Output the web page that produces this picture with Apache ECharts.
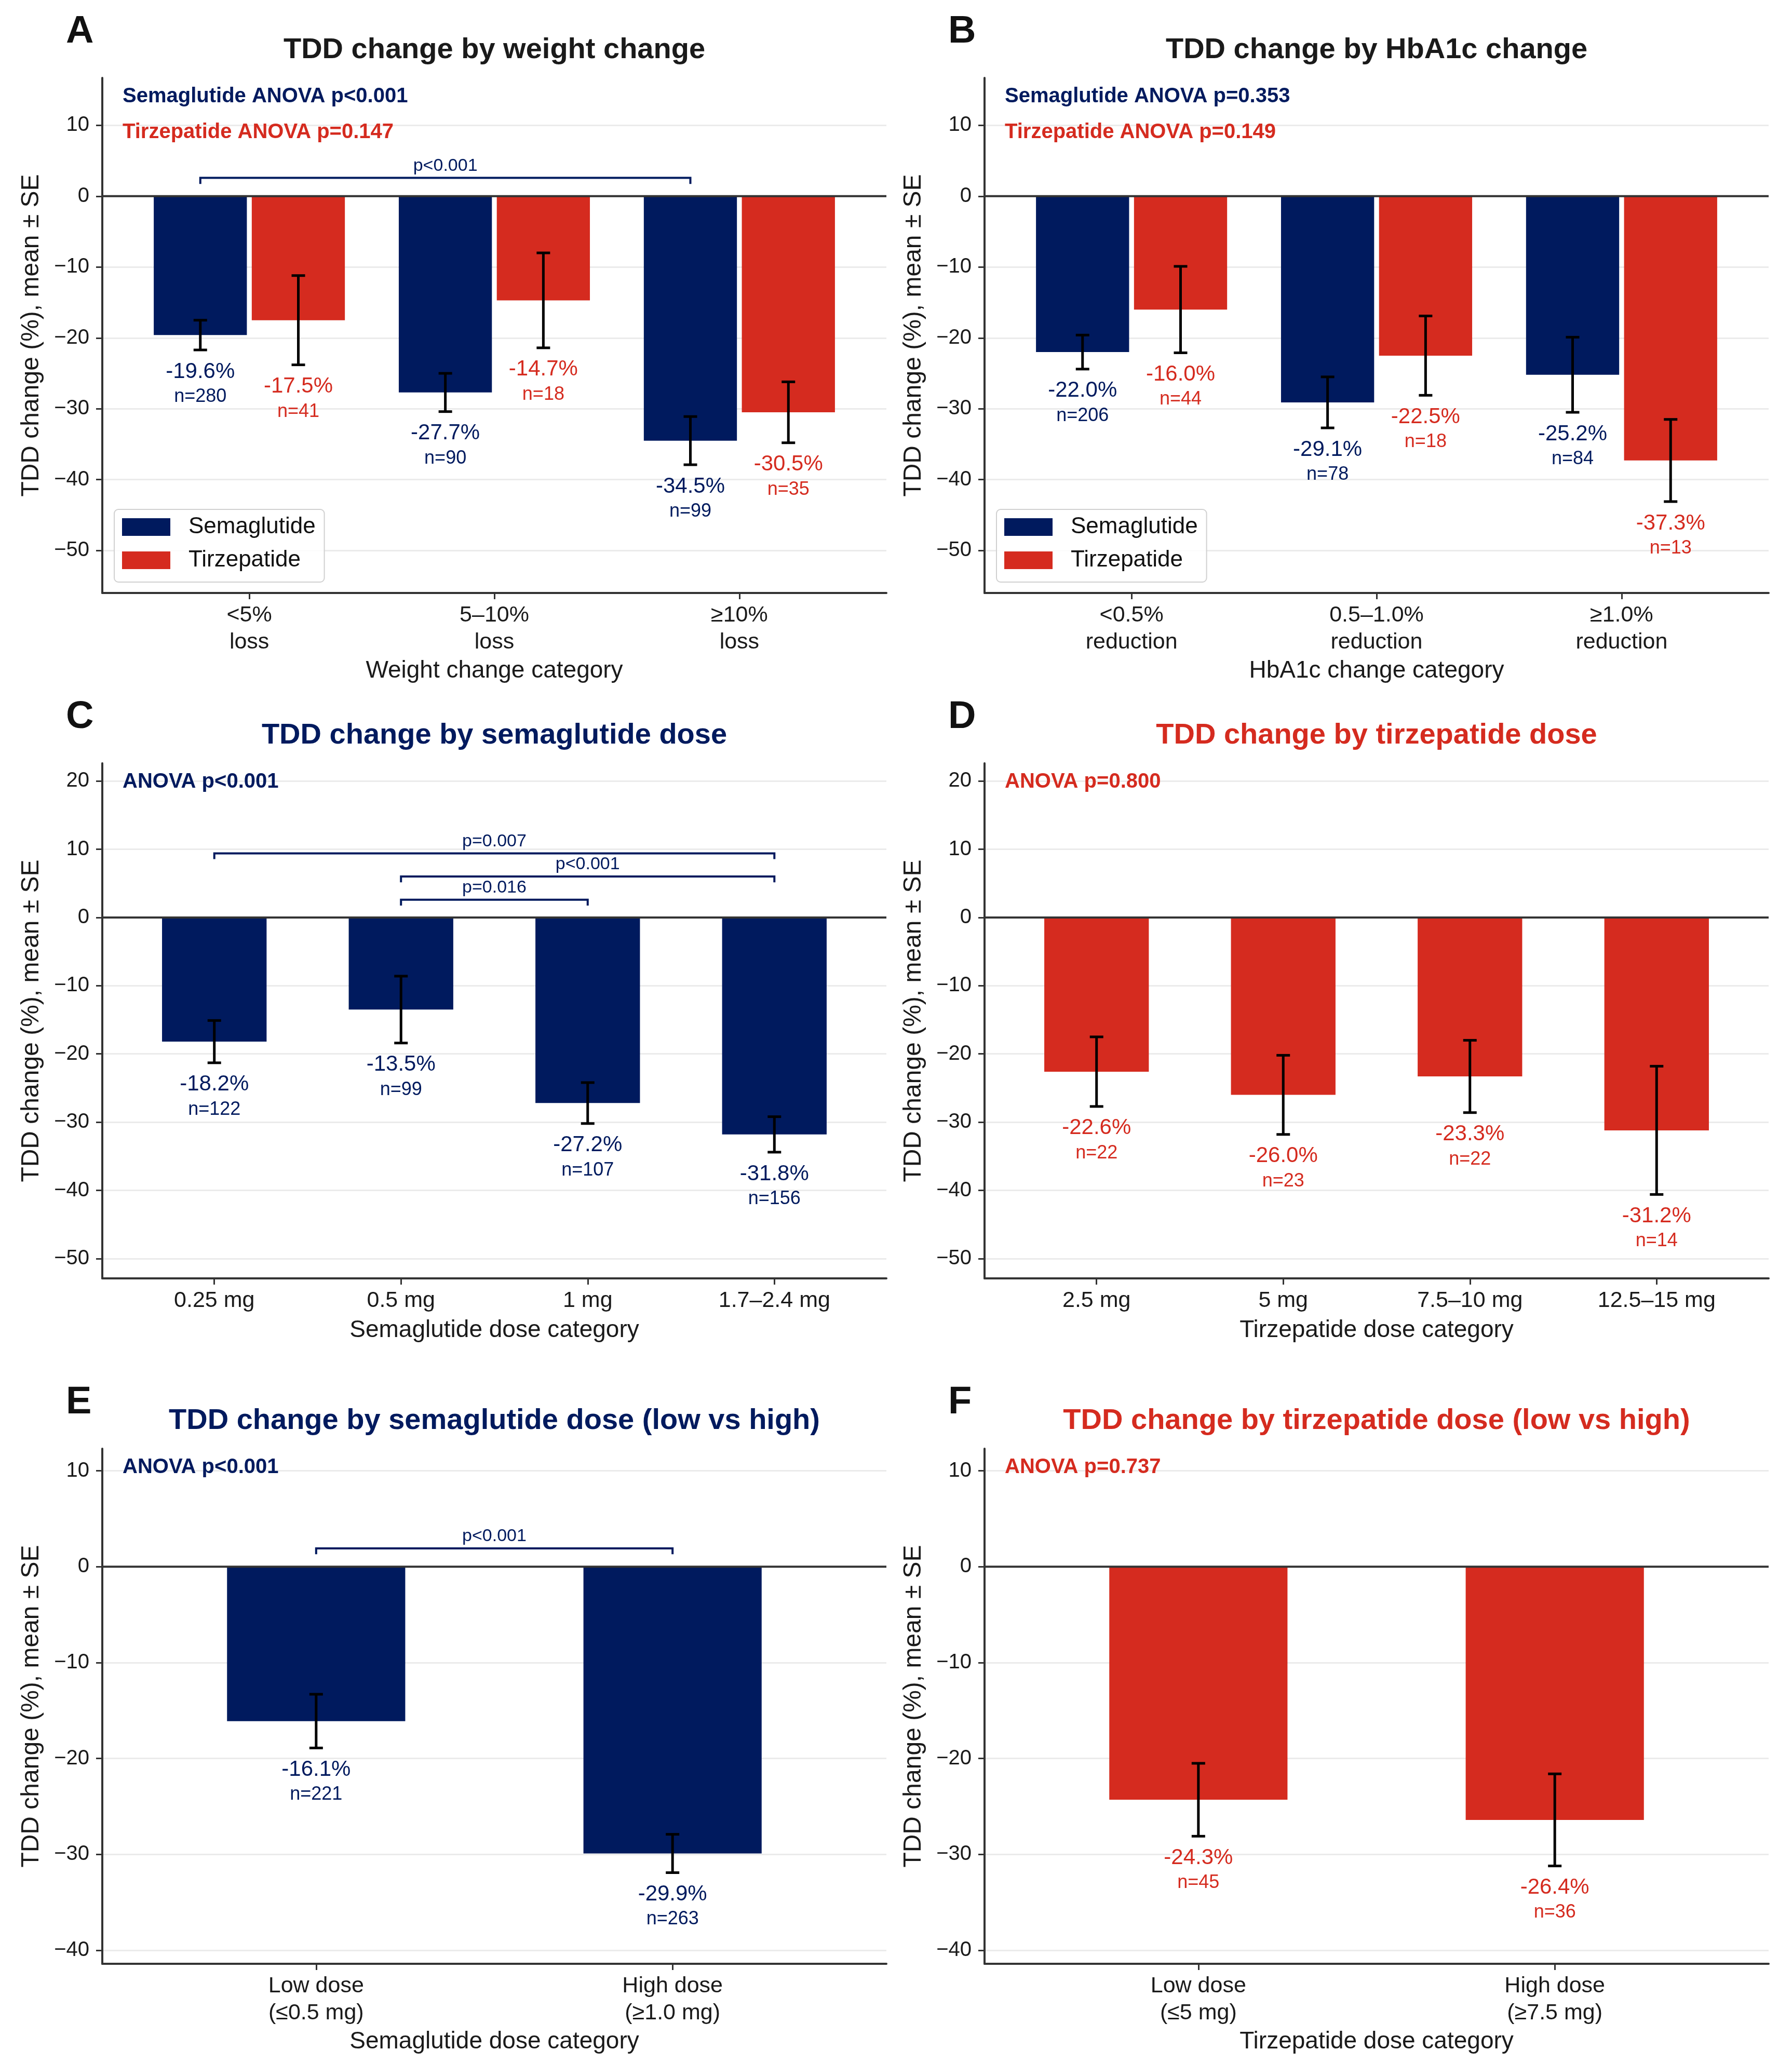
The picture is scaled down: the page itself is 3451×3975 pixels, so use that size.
<!DOCTYPE html>
<html lang="en">
<head>
<meta charset="UTF-8">
<title>TDD change by subgroup</title>
<script src="https://cdn.jsdelivr.net/npm/echarts@6/dist/echarts.min.js"></script>
<style>html,body{margin:0;padding:0;background:#fff}#main{width:3451px;height:3975px}</style>
</head>
<body>
<div id="main"></div>
<script>
var NAVY = '#001A5E', RED = '#D52B1F', INK = '#1a1a1a';
var FONT = '"Liberation Sans", Arial, sans-serif';

// A: weight change
var weightCats = ['<5%\nloss', '5–10%\nloss', '≥10%\nloss'];
var weightSemaMean = [-19.6, -27.7, -34.5];
var weightSemaSE = [2.1, 2.7, 3.4];
var weightSemaN = [280, 90, 99];
var weightTirzMean = [-17.5, -14.7, -30.5];
var weightTirzSE = [6.3, 6.7, 4.3];
var weightTirzN = [41, 18, 35];

// B: HbA1c change
var hba1cCats = ['<0.5%\nreduction', '0.5–1.0%\nreduction', '≥1.0%\nreduction'];
var hba1cSemaMean = [-22.0, -29.1, -25.2];
var hba1cSemaSE = [2.4, 3.6, 5.3];
var hba1cSemaN = [206, 78, 84];
var hba1cTirzMean = [-16.0, -22.5, -37.3];
var hba1cTirzSE = [6.1, 5.6, 5.8];
var hba1cTirzN = [44, 18, 13];

// C: semaglutide dose
var semaDoseCats = ['0.25 mg', '0.5 mg', '1 mg', '1.7–2.4 mg'];
var semaDoseMean = [-18.2, -13.5, -27.2, -31.8];
var semaDoseSE = [3.1, 4.9, 3.0, 2.6];
var semaDoseN = [122, 99, 107, 156];

// D: tirzepatide dose
var tirzDoseCats = ['2.5 mg', '5 mg', '7.5–10 mg', '12.5–15 mg'];
var tirzDoseMean = [-22.6, -26.0, -23.3, -31.2];
var tirzDoseSE = [5.1, 5.8, 5.3, 9.4];
var tirzDoseN = [22, 23, 22, 14];

// E: semaglutide low vs high
var semaLHCats = ['Low dose\n(≤0.5 mg)', 'High dose\n(≥1.0 mg)'];
var semaLHMean = [-16.1, -29.9];
var semaLHSE = [2.8, 2.0];
var semaLHN = [221, 263];

// F: tirzepatide low vs high
var tirzLHCats = ['Low dose\n(≤5 mg)', 'High dose\n(≥7.5 mg)'];
var tirzLHMean = [-24.3, -26.4];
var tirzLHSE = [3.8, 4.8];
var tirzLHN = [45, 36];

// pairwise brackets: [from x, to x, height, tip], label
var weightBrackets = [[-0.2, 1.8, 2.6, 0.87]];
var weightBracketText = ['p<0.001'];
var semaDoseBrackets = [[0, 3, 9.4, 0.85], [1, 3, 6.0, 0.85], [1, 2, 2.6, 0.85]];
var semaDoseBracketText = ['p=0.007', 'p<0.001', 'p=0.016'];
var semaLHBrackets = [[0, 1, 1.9, 0.6]];
var semaLHBracketText = ['p<0.001'];

var colLeft = [197, 1896], rowTop = [0, 1320, 2640];
var plotW = 1510, plotH = 992;

var grid = [], xAxis = [], yAxis = [], series = [], graphic = [], legend = [];

function range(n) { var a = []; for (var k = 0; k < n; k++) a.push(k); return a; }
function minus(v) { return v < 0 ? '\u2212' + Math.abs(v) : String(v); }

function barRenderer(width, color) {
  return function (params, api) {
    var x = api.value(0), m = api.value(1), se = api.value(2), n = api.value(3);
    var a = api.coord([x - width / 2, 0]);
    var b = api.coord([x + width / 2, m]);
    var t = api.coord([x, m + se]);
    var d = api.coord([x, m - se]);
    var cap = 13;
    return {
      type: 'group',
      children: [
        { type: 'rect', shape: { x: a[0], y: a[1], width: b[0] - a[0], height: b[1] - a[1] }, style: { fill: color } },
        { type: 'line', z2: 5, shape: { x1: t[0], y1: t[1], x2: d[0], y2: d[1] }, style: { stroke: '#000', lineWidth: 5 } },
        { type: 'line', z2: 5, shape: { x1: t[0] - cap, y1: t[1], x2: t[0] + cap, y2: t[1] }, style: { stroke: '#000', lineWidth: 5 } },
        { type: 'line', z2: 5, shape: { x1: d[0] - cap, y1: d[1], x2: d[0] + cap, y2: d[1] }, style: { stroke: '#000', lineWidth: 5 } },
        { type: 'text', z2: 6, style: { text: m.toFixed(1) + '%', x: d[0], y: d[1] + 42, align: 'center', verticalAlign: 'middle', fill: color, font: '42px ' + FONT } },
        { type: 'text', z2: 6, style: { text: 'n=' + n, x: d[0], y: d[1] + 90, align: 'center', verticalAlign: 'middle', fill: color, font: '36px ' + FONT } }
      ]
    };
  };
}

function panel(p) {
  var i = grid.length;
  var left = colLeft[p.col], top = rowTop[p.row] + 150;
  var nc = p.cats.length;
  var twoLine = p.cats[0].indexOf('\n') >= 0;
  grid.push({ left: left, top: top, width: plotW, height: plotH, outerBoundsMode: 'none' });
  xAxis.push({
    gridIndex: i, type: 'value', min: -0.6, max: nc - 0.4,
    name: p.xName, nameLocation: 'middle', nameGap: twoLine ? 127 : 77,
    nameTextStyle: { fontFamily: FONT, fontSize: 46, color: INK },
    axisLine: { show: true, onZero: false, lineStyle: { color: '#333', width: 4 } },
    axisTick: { show: true, length: 12, customValues: range(nc), lineStyle: { color: '#333', width: 3 } },
    axisLabel: { customValues: range(nc), formatter: function (v) { return p.cats[Math.round(v)]; },
      fontFamily: FONT, fontSize: 43, lineHeight: 52, color: INK, margin: 17 },
    splitLine: { show: false }
  });
  yAxis.push({
    gridIndex: i, type: 'value', min: p.yMin, max: p.yMax,
    name: 'TDD change (%), mean ± SE', nameLocation: 'middle', nameGap: 112,
    nameTextStyle: { fontFamily: FONT, fontSize: 48, color: INK },
    axisLine: { show: true, onZero: false, lineStyle: { color: '#333', width: 4 } },
    axisTick: { show: true, length: 12, customValues: p.yTicks, lineStyle: { color: '#333', width: 3 } },
    axisLabel: { customValues: p.yTicks, formatter: minus, fontFamily: FONT, fontSize: 40, color: INK, margin: 25 },
    splitLine: { show: true, lineStyle: { color: '#ebebeb', width: 3 } }
  });

  p.groups.forEach(function (g) {
    series.push({
      type: 'custom', name: g.name, xAxisIndex: i, yAxisIndex: i,
      itemStyle: { color: g.color }, z: 2, silent: true,
      renderItem: barRenderer(g.width, g.color),
      encode: { x: 0, y: 1 },
      data: g.mean.map(function (m, k) { return [k + g.offset, m, g.se[k], g.n[k]]; })
    });
  });

  // zero line
  series.push({
    type: 'custom', xAxisIndex: i, yAxisIndex: i, z: 4, silent: true,
    encode: { x: 0, y: 1 },
    data: [[0, 0]],
    renderItem: function (params, api) {
      var cs = params.coordSys;
      var y = api.coord([api.value(0), api.value(1)])[1];
      return { type: 'line', shape: { x1: cs.x, y1: y, x2: cs.x + cs.width, y2: y }, style: { stroke: '#333', lineWidth: 4 } };
    }
  });

  if (p.brackets) {
    series.push({
      type: 'custom', xAxisIndex: i, yAxisIndex: i, z: 5, silent: true,
      encode: { x: [0, 1], y: 2 },
      data: p.brackets,
      renderItem: function (params, api) {
        var x1 = api.value(0), x2 = api.value(1), y = api.value(2), tip = api.value(3);
        var a = api.coord([x1, y - tip]), b = api.coord([x1, y]), c = api.coord([x2, y]), d = api.coord([x2, y - tip]);
        return {
          type: 'group',
          children: [
            { type: 'polyline', shape: { points: [a, b, c, d] }, style: { stroke: NAVY, lineWidth: 4, fill: null } },
            { type: 'text', style: { text: p.bracketText[params.dataIndex], x: (b[0] + c[0]) / 2, y: b[1] - 23,
              align: 'center', verticalAlign: 'middle', fill: NAVY, font: '34px ' + FONT } }
          ]
        };
      }
    });
  }

  var rt = rowTop[p.row];
  graphic.push({ type: 'text', z: 100, left: left - 70, top: rt + 25,
    style: { text: p.letter, fill: '#111', font: 'bold 74px ' + FONT } });
  graphic.push({ type: 'text', z: 100, x: left + plotW / 2, y: rt + 97,
    style: { text: p.title, fill: p.titleColor, font: 'bold 56px ' + FONT, align: 'center', verticalAlign: 'middle' } });
  p.anova.forEach(function (a, k) {
    graphic.push({ type: 'text', z: 100, x: left + 39, y: rt + 186 + k * 69,
      style: { text: a[0], fill: a[1], font: 'bold 40px ' + FONT, align: 'left', verticalAlign: 'middle' } });
  });

  if (p.legend) {
    legend.push({
      orient: 'vertical', left: left + 23, top: rt + 981, z: 50,
      padding: [12, 17, 20, 15], itemGap: 20, itemWidth: 93, itemHeight: 34,
      borderColor: '#d0d0d0', borderWidth: 2, borderRadius: 8, backgroundColor: 'rgba(255,255,255,0.85)',
      textStyle: { fontFamily: FONT, fontSize: 44, lineHeight: 44, color: '#111', padding: [0, 0, 0, 30] },
      selectedMode: false,
      data: [
        { name: 'Semaglutide', icon: 'rect', itemStyle: { color: NAVY } },
        { name: 'Tirzepatide', icon: 'rect', itemStyle: { color: RED } }
      ]
    });
  }
}

function pair(sm, ss, sn, tm, ts, tn) {
  return [
    { name: 'Semaglutide', color: NAVY, mean: sm, se: ss, n: sn, offset: -0.2, width: 0.38 },
    { name: 'Tirzepatide', color: RED, mean: tm, se: ts, n: tn, offset: 0.2, width: 0.38 }
  ];
}

panel({ row: 0, col: 0, letter: 'A', title: 'TDD change by weight change', titleColor: INK,
  cats: weightCats, xName: 'Weight change category', yMin: -56.0, yMax: 16.7, yTicks: [-50, -40, -30, -20, -10, 0, 10],
  groups: pair(weightSemaMean, weightSemaSE, weightSemaN, weightTirzMean, weightTirzSE, weightTirzN),
  brackets: weightBrackets, bracketText: weightBracketText, legend: true,
  anova: [['Semaglutide ANOVA p<0.001', NAVY], ['Tirzepatide ANOVA p=0.147', RED]] });

panel({ row: 0, col: 1, letter: 'B', title: 'TDD change by HbA1c change', titleColor: INK,
  cats: hba1cCats, xName: 'HbA1c change category', yMin: -56.0, yMax: 16.7, yTicks: [-50, -40, -30, -20, -10, 0, 10],
  groups: pair(hba1cSemaMean, hba1cSemaSE, hba1cSemaN, hba1cTirzMean, hba1cTirzSE, hba1cTirzN),
  legend: true,
  anova: [['Semaglutide ANOVA p=0.353', NAVY], ['Tirzepatide ANOVA p=0.149', RED]] });

panel({ row: 1, col: 0, letter: 'C', title: 'TDD change by semaglutide dose', titleColor: NAVY,
  cats: semaDoseCats, xName: 'Semaglutide dose category', yMin: -52.9, yMax: 22.6, yTicks: [-50, -40, -30, -20, -10, 0, 10, 20],
  groups: [{ name: 'Semaglutide', color: NAVY, mean: semaDoseMean, se: semaDoseSE, n: semaDoseN, offset: 0, width: 0.56 }],
  brackets: semaDoseBrackets, bracketText: semaDoseBracketText,
  anova: [['ANOVA p<0.001', NAVY]] });

panel({ row: 1, col: 1, letter: 'D', title: 'TDD change by tirzepatide dose', titleColor: RED,
  cats: tirzDoseCats, xName: 'Tirzepatide dose category', yMin: -52.9, yMax: 22.6, yTicks: [-50, -40, -30, -20, -10, 0, 10, 20],
  groups: [{ name: 'Tirzepatide', color: RED, mean: tirzDoseMean, se: tirzDoseSE, n: tirzDoseN, offset: 0, width: 0.56 }],
  anova: [['ANOVA p=0.800', RED]] });

panel({ row: 2, col: 0, letter: 'E', title: 'TDD change by semaglutide dose (low vs high)', titleColor: NAVY,
  cats: semaLHCats, xName: 'Semaglutide dose category', yMin: -41.4, yMax: 12.3, yTicks: [-40, -30, -20, -10, 0, 10],
  groups: [{ name: 'Semaglutide', color: NAVY, mean: semaLHMean, se: semaLHSE, n: semaLHN, offset: 0, width: 0.5 }],
  brackets: semaLHBrackets, bracketText: semaLHBracketText,
  anova: [['ANOVA p<0.001', NAVY]] });

panel({ row: 2, col: 1, letter: 'F', title: 'TDD change by tirzepatide dose (low vs high)', titleColor: RED,
  cats: tirzLHCats, xName: 'Tirzepatide dose category', yMin: -41.4, yMax: 12.3, yTicks: [-40, -30, -20, -10, 0, 10],
  groups: [{ name: 'Tirzepatide', color: RED, mean: tirzLHMean, se: tirzLHSE, n: tirzLHN, offset: 0, width: 0.5 }],
  anova: [['ANOVA p=0.737', RED]] });

var chart = echarts.init(document.getElementById('main'), null, { renderer: 'canvas' });
chart.setOption({
  backgroundColor: '#fff',
  animation: false,
  textStyle: { fontFamily: FONT },
  grid: grid, xAxis: xAxis, yAxis: yAxis, legend: legend,
  series: series, graphic: graphic
});
</script>
</body>
</html>
